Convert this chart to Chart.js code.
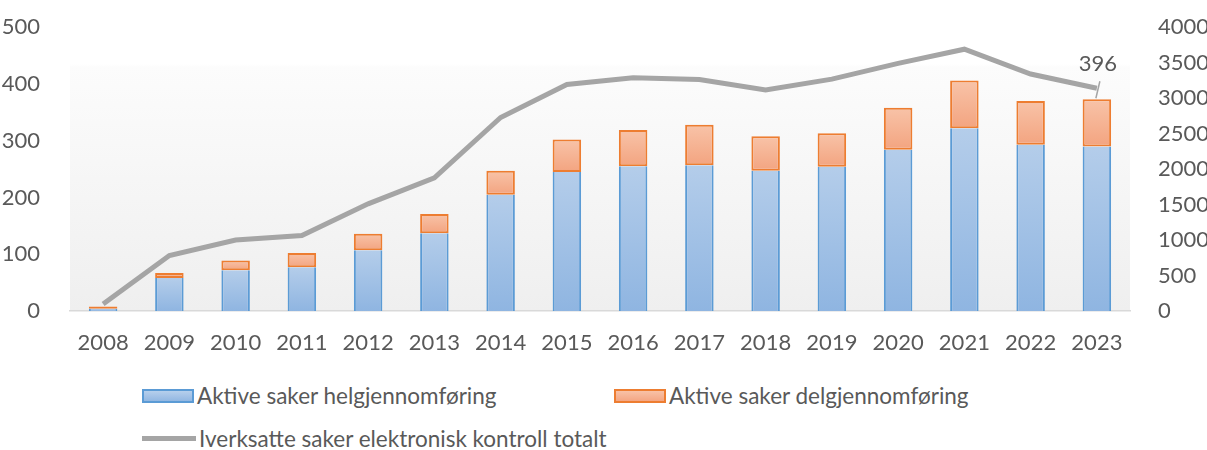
<!DOCTYPE html>
<html>
<head>
<meta charset="utf-8">
<script src="https://cdn.jsdelivr.net/npm/chart.js@4.4.0/dist/chart.umd.min.js"></script>
<style>
  body { margin: 0; background: #fff; font-family: Lato, "Open Sans", sans-serif; overflow: hidden; }
  #wrap { position: relative; width: 1207px; height: 450px; overflow: hidden; }
  #chartBox { position: absolute; left: 0; top: -8px; width: 1207px; height: 370px; }
  .leg { position: absolute; color: #595959; font-size: 22.5px; display: flex; align-items: center; white-space: nowrap; }
  .leg .box { width: 52px; height: 14px; margin-right: 3px; box-sizing: border-box; }
  .leg .ln { width: 54px; height: 5px; margin-right: 3px; background: #a5a5a5; }
</style>
</head>
<body>
<div id="wrap">
  <div id="chartBox"><canvas id="c"></canvas></div>
  <div class="leg" style="left:142px; top:382px;"><div class="box" style="background:linear-gradient(#b6cfec,#92b7e2); border:2px solid #5b9bd5;"></div><span id="l0"></span></div>
  <div class="leg" style="left:614px; top:382px;"><div class="box" style="background:linear-gradient(#f8c2a7,#f4a683); border:2px solid #ed7d31;"></div><span id="l1"></span></div>
  <div class="leg" style="left:142px; top:425px;"><div class="ln"></div><span id="l2"></span></div>
</div>
<script>
// Categories and series
const years = ['2008', '2009', '2010', '2011', '2012', '2013', '2014', '2015',
               '2016', '2017', '2018', '2019', '2020', '2021', '2022', '2023'];
const helgjennomforing = [4, 58, 72, 77, 107, 137, 205, 245, 255, 257, 247, 254, 284, 322, 293, 290];
const delgjennomforing = [4, 9, 17, 25, 29, 34, 42, 57, 64, 71, 61, 59, 74, 84, 77, 83];
const iverksatteTotalt = [100, 783, 1000, 1063, 1510, 1878, 2727, 3193, 3287, 3263, 3114, 3268, 3490, 3690, 3340, 3140];
const seriesNames = ['Aktive saker helgjennomføring', 'Aktive saker delgjennomføring',
                     'Iverksatte saker elektronisk kontroll totalt'];
const lastLabel = '396';
const leftTicks = [0, 100, 200, 300, 400, 500];
const rightTicks = [0, 500, 1000, 1500, 2000, 2500, 3000, 3500, 4000];

document.getElementById('l0').textContent = seriesNames[0];
document.getElementById('l1').textContent = seriesNames[1];
document.getElementById('l2').textContent = seriesNames[2];

const textColor = '#595959';
const tickFont = { family: 'Lato, "Open Sans", sans-serif', size: 22 };

// Per-bar vertical gradient, from the bar's own top to its bottom
function barGradient(ctx, lo, hi, top, bottom) {
    const chart = ctx.chart;
    const y = chart.scales.y;
    if (!y || !chart.chartArea) return bottom;
    const i = ctx.dataIndex;
    const yTop = y.getPixelForValue(hi[i]);
    const yBot = y.getPixelForValue(lo[i]);
    if (!isFinite(yTop) || !isFinite(yBot) || yTop === yBot) return bottom;
    const g = chart.ctx.createLinearGradient(0, yTop, 0, yBot);
    g.addColorStop(0, top);
    g.addColorStop(1, bottom);
    return g;
}

const zeros = helgjennomforing.map(() => 0);
const totals = helgjennomforing.map((v, i) => v + delgjennomforing[i]);

// Plot area fill: white at top fading to light gray at the bottom
const plotBackground = {
    id: 'plotBackground',
    beforeDraw(chart) {
        const { ctx, chartArea: a } = chart;
        const g = ctx.createLinearGradient(0, a.top, 0, a.bottom);
        g.addColorStop(0, '#ffffff');
        g.addColorStop(0.13, '#ffffff');
        g.addColorStop(0.14, '#fcfcfc');
        g.addColorStop(1, '#efefef');
        ctx.save();
        ctx.fillStyle = g;
        ctx.fillRect(a.left, a.top, a.right - a.left, a.bottom - a.top);
        ctx.restore();
    }
};

// Data label on the last line point, with a short leader line
const lastPointLabel = {
    id: 'lastPointLabel',
    afterDatasetsDraw(chart) {
        const meta = chart.getDatasetMeta(2);
        const pt = meta.data[meta.data.length - 1];
        if (!pt) return;
        const ctx = chart.ctx;
        ctx.save();
        ctx.strokeStyle = '#a5a5a5';
        ctx.lineWidth = 1.5;
        ctx.beginPath();
        ctx.moveTo(pt.x - 1, pt.y + 10);
        ctx.lineTo(pt.x + 3, pt.y - 7);
        ctx.stroke();
        ctx.fillStyle = textColor;
        ctx.font = '22px Lato, "Open Sans", sans-serif';
        ctx.textAlign = 'center';
        ctx.textBaseline = 'middle';
        ctx.fillText(lastLabel, pt.x + 1, pt.y - 24);
        ctx.restore();
    }
};

new Chart(document.getElementById('c'), {
    type: 'bar',
    data: {
        labels: years,
        datasets: [
            {
                label: seriesNames[0],
                data: helgjennomforing,
                backgroundColor: ctx => barGradient(ctx, zeros, helgjennomforing, '#b4cdea', '#8fb5e1'),
                borderColor: '#5b9bd5',
                borderWidth: { left: 2, right: 2, top: 0, bottom: 0 },
                borderSkipped: false,
                stack: 's',
                yAxisID: 'y',
                barPercentage: 0.43,
                categoryPercentage: 1,
                order: 2
            },
            {
                label: seriesNames[1],
                data: delgjennomforing,
                backgroundColor: ctx => barGradient(ctx, helgjennomforing, totals, '#f8c3a8', '#f3a480'),
                borderColor: '#ed7d31',
                borderWidth: 2,
                borderSkipped: false,
                stack: 's',
                yAxisID: 'y',
                barPercentage: 0.43,
                categoryPercentage: 1,
                order: 2
            },
            {
                label: seriesNames[2],
                type: 'line',
                data: iverksatteTotalt,
                borderColor: '#a5a5a5',
                borderWidth: 5,
                pointRadius: 0,
                fill: false,
                tension: 0,
                yAxisID: 'y2',
                order: 1
            }
        ]
    },
    options: {
        responsive: true,
        maintainAspectRatio: false,
        animation: false,
        layout: { padding: { top: 4, left: 0, right: 0, bottom: 0 } },
        plugins: {
            legend: { display: false },
            tooltip: { enabled: false }
        },
        scales: {
            x: {
                stacked: true,
                grid: { display: false },
                border: { display: true, color: '#d9d9d9', width: 1.5 },
                ticks: { color: textColor, font: tickFont, padding: 11, maxRotation: 0 },
                afterFit(axis) { axis.height = 51; }
            },
            y: {
                stacked: true,
                position: 'left',
                min: 0,
                max: 500,
                afterBuildTicks(axis) { axis.ticks = leftTicks.map(v => ({ value: v })); },
                grid: { display: false },
                border: { display: false },
                ticks: { color: textColor, font: tickFont, padding: 22, callback: v => String(v) },
                afterFit(axis) { axis.width = 70; }
            },
            y2: {
                position: 'right',
                min: 0,
                max: 4000,
                afterBuildTicks(axis) { axis.ticks = rightTicks.map(v => ({ value: v })); },
                grid: { display: false },
                border: { display: false },
                ticks: { color: textColor, font: tickFont, padding: 20, callback: v => String(v) },
                afterFit(axis) { axis.width = 77; }
            }
        }
    },
    plugins: [plotBackground, lastPointLabel]
});
</script>
</body>
</html>
